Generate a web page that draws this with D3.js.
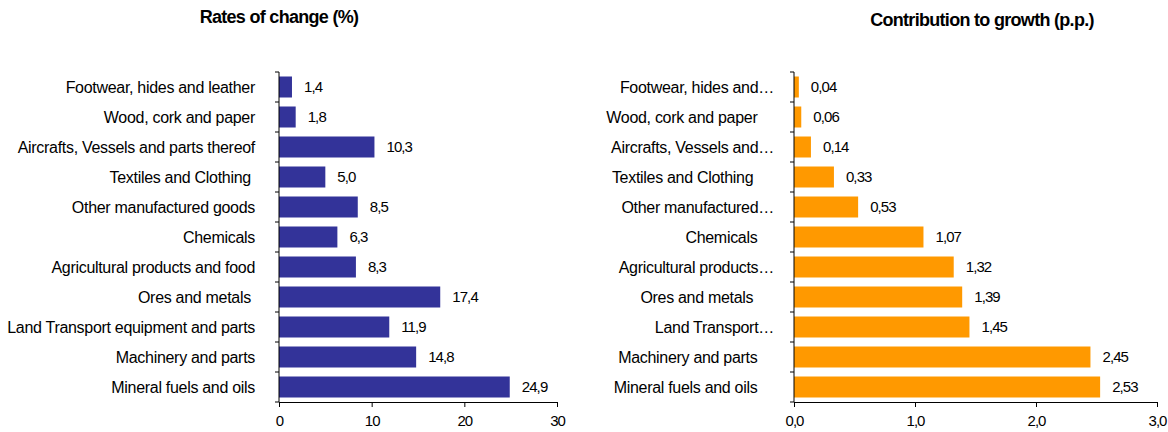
<!DOCTYPE html>
<html>
<head>
<meta charset="utf-8">
<script src="https://cdn.jsdelivr.net/npm/d3@7"></script>
<style>
  body { margin: 0; background: #fff; }
  text { font-family: "Liberation Sans", Arial, sans-serif; fill: #000; }
  .domain, .tick line { stroke: #000; }
</style>
</head>
<body>
<div id="chart"></div>
<script>
// categories, top to bottom
const categories = [
    "Footwear, hides and leather",
    "Wood, cork and paper",
    "Aircrafts, Vessels and parts thereof",
    "Textiles and Clothing ",
    "Other manufactured goods",
    "Chemicals",
    "Agricultural products and food",
    "Ores and metals ",
    "Land Transport equipment and parts",
    "Machinery and parts",
    "Mineral fuels and oils"
];
// labels as shown in the right panel (Excel truncated some of them)
const shortCategories = [
    "Footwear, hides and…",
    "Wood, cork and paper    ",
    "Aircrafts, Vessels and…",
    "Textiles and Clothing     ",
    "Other manufactured…",
    "Chemicals    ",
    "Agricultural products…",
    "Ores and metals     ",
    "Land Transport…",
    "Machinery and parts    ",
    "Mineral fuels and oils    "
];
const rates = [1.4, 1.8, 10.3, 5.0, 8.5, 6.3, 8.3, 17.4, 11.9, 14.8, 24.9];
const contributions = [0.04, 0.06, 0.14, 0.33, 0.53, 1.07, 1.32, 1.39, 1.45, 2.45, 2.53];
const rateTicks = [0, 10, 20, 30];
const contribTicks = [0, 1, 2, 3];

const svg = d3.select("#chart").append("svg")
    .attr("width", 1168)
    .attr("height", 432);

const comma = d => String(d).replace(".", ",");

function drawPanel(cfg) {
    const g = svg.append("g");

    const x = d3.scaleLinear().domain(cfg.domain).range([cfg.x0, cfg.x1]);
    const y = d3.scaleBand().domain(d3.range(categories.length)).range([72, 402]).paddingInner(0.3).paddingOuter(0.15);

    // title
    g.append("text")
        .attr("x", cfg.titleX)
        .attr("y", cfg.titleY)
        .attr("text-anchor", "middle")
        .style("font-size", "18px")
        .style("font-weight", "bold")
        .style("letter-spacing", "-0.7px")
        .text(cfg.title);

    // bars
    g.selectAll(".bar")
        .data(cfg.values)
        .join("rect")
        .attr("class", "bar")
        .attr("x", x(0))
        .attr("y", (d, i) => y(i))
        .attr("width", d => x(d) - x(0))
        .attr("height", y.bandwidth())
        .attr("fill", cfg.color);

    // value labels
    g.selectAll(".val")
        .data(cfg.values)
        .join("text")
        .attr("class", "val")
        .attr("x", d => x(d) + 12)
        .attr("y", (d, i) => y(i) + y.bandwidth() / 2)
        .attr("dy", "0.36em")
        .style("font-size", "15px")
        .style("letter-spacing", "-0.9px")
        .text(d => cfg.fmt(d));

    // category labels
    g.selectAll(".cat")
        .data(cfg.labels)
        .join("text")
        .attr("class", "cat")
        .attr("x", cfg.labelX)
        .attr("y", (d, i) => y(i) + y.bandwidth() / 2)
        .attr("dy", "0.36em")
        .attr("text-anchor", "end")
        .style("font-size", "16px")
        .style("letter-spacing", "-0.3px")
        .style("white-space", "pre")
        .text(d => d);

    // y axis line with ticks at band boundaries
    const yAxisG = g.append("g");
    yAxisG.append("line")
        .attr("x1", x(0)).attr("x2", x(0))
        .attr("y1", 72).attr("y2", 402)
        .attr("stroke", "#000");
    yAxisG.selectAll(".ytick")
        .data(d3.range(categories.length + 1))
        .join("line")
        .attr("class", "ytick")
        .attr("x1", x(0) - 4).attr("x2", x(0))
        .attr("y1", i => 72 + i * y.step()).attr("y2", i => 72 + i * y.step())
        .attr("stroke", "#000");

    // x axis
    g.append("g")
        .attr("transform", "translate(0,402)")
        .call(d3.axisBottom(x).tickValues(cfg.ticks).tickSize(5).tickSizeOuter(0).tickFormat(cfg.tickFmt))
        .call(a => a.selectAll("text")
            .style("font-size", "15px")
            .style("letter-spacing", "-1px")
            .style("font-family", "'Liberation Sans', Arial, sans-serif")
            .attr("fill", "#000")
            .attr("dy", "1.05em"));
}

drawPanel({
    title: "Rates of change (%)",
    titleX: 279, titleY: 23,
    values: rates,
    labels: categories,
    domain: [0, 30],
    x0: 279, x1: 557,
    ticks: rateTicks,
    tickFmt: d => d,
    fmt: d => comma(d.toFixed(1)),
    labelX: 255,
    color: "#333399"
});

drawPanel({
    title: "Contribution to growth (p.p.)",
    titleX: 982, titleY: 26,
    values: contributions,
    labels: shortCategories,
    domain: [0, 3],
    x0: 794, x1: 1157,
    ticks: contribTicks,
    tickFmt: d => comma(d.toFixed(1)),
    fmt: d => comma(d.toFixed(2)),
    labelX: 774,
    color: "#FF9900"
});
</script>
</body>
</html>
